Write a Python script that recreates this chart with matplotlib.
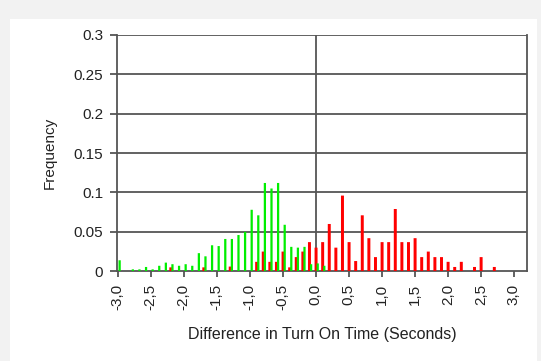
import matplotlib
matplotlib.use("Agg")
import matplotlib.pyplot as plt
from matplotlib.patches import Rectangle

plt.rcParams["font.family"] = ["Liberation Sans", "DejaVu Sans"]

# --- Data (bin centre in seconds, frequency) ---
green_x = [-3.0, -2.8, -2.7, -2.6, -2.5, -2.4, -2.3, -2.2, -2.1, -2.0,
           -1.9, -1.8, -1.7, -1.6, -1.5, -1.4, -1.3, -1.2, -1.1, -1.0,
           -0.9, -0.8, -0.7, -0.6, -0.5, -0.4, -0.3, -0.2, -0.1, 0.0, 0.1]
green_y = [0.014, 0.0025, 0.0025, 0.0055, 0.0025, 0.007, 0.011, 0.009, 0.007, 0.009,
           0.007, 0.023, 0.019, 0.033, 0.032, 0.041, 0.041, 0.046, 0.050, 0.078,
           0.071, 0.112, 0.105, 0.112, 0.059, 0.031, 0.030, 0.031, 0.009, 0.010, 0.007]

red_x = [-2.2, -1.7, -1.3, -0.9, -0.8, -0.7, -0.6, -0.5, -0.4, -0.3,
         -0.2, -0.1, 0.0, 0.1, 0.2, 0.3, 0.4, 0.5, 0.6, 0.7,
         0.8, 0.9, 1.0, 1.1, 1.2, 1.3, 1.4, 1.5, 1.6, 1.7,
         1.8, 1.9, 2.0, 2.1, 2.2, 2.4, 2.5, 2.7]
red_y = [0.005, 0.005, 0.006, 0.012, 0.025, 0.012, 0.012, 0.025, 0.005, 0.018,
         0.025, 0.037, 0.030, 0.037, 0.060, 0.030, 0.096, 0.037, 0.013, 0.071,
         0.042, 0.018, 0.037, 0.037, 0.079, 0.037, 0.037, 0.042, 0.018, 0.025,
         0.018, 0.018, 0.012, 0.0055, 0.012, 0.0055, 0.018, 0.0055]

x_ticks = [-3.0, -2.5, -2.0, -1.5, -1.0, -0.5, 0.0, 0.5, 1.0, 1.5, 2.0, 2.5, 3.0]
y_ticks = [0, 0.05, 0.1, 0.15, 0.2, 0.25, 0.3]
y_labels = ["0", "0.05", "0.1", "0.15", "0.2", "0.25", "0.3"]

grid_col = "#555555"
text_col = "#222222"

fig = plt.figure(figsize=(5.41, 3.61), dpi=100, facecolor="#f2f2f2")
# white chart panel
fig.patches.append(Rectangle((10 / 541, 0), 527 / 541, 1 - 19 / 361,
                             transform=fig.transFigure, facecolor="white",
                             edgecolor="none", zorder=-5))

ax = fig.add_axes([117 / 541, 1 - 271.3 / 361, 410 / 541, 236.6 / 361])
ax.set_facecolor("white")

ax.bar([x + 0.005 for x in red_x], red_y, width=0.045, color="#ff0000",
       linewidth=0, zorder=3, snap=False)
ax.bar([x + 0.03 for x in green_x], green_y, width=0.034, color="#00ee00",
       linewidth=0, zorder=4, snap=False)

ax.set_xlim(-3.01, 3.2)
ax.set_ylim(0, 0.3)

for yv in y_ticks[1:]:
    ax.axhline(yv, color=grid_col, lw=1.3, zorder=1)
ax.axvline(0, color=grid_col, lw=1.3, zorder=2)

for side in ["left", "bottom", "right"]:
    ax.spines[side].set_color(grid_col)
    ax.spines[side].set_linewidth(1.3)
ax.spines["top"].set_visible(False)

ax.set_xticks(x_ticks)
ax.set_xticklabels([f"{v:.1f}".replace(".", ",") for v in x_ticks],
                   rotation=90, fontsize=11, color=text_col)
ax.set_yticks(y_ticks)
ax.set_yticklabels(y_labels, fontsize=11, color=text_col)
ax.tick_params(axis="y", length=5, width=1.3, color=grid_col, pad=5)
ax.tick_params(axis="x", length=4, width=1.3, color=grid_col, pad=5)

ax.set_ylabel("Frequency", fontsize=11, color=text_col, labelpad=12)
ax.set_xlabel("Difference in Turn On Time (Seconds)", fontsize=11.5,
              color=text_col, labelpad=12)

fig.savefig("out.png", dpi=100, facecolor=fig.get_facecolor())
